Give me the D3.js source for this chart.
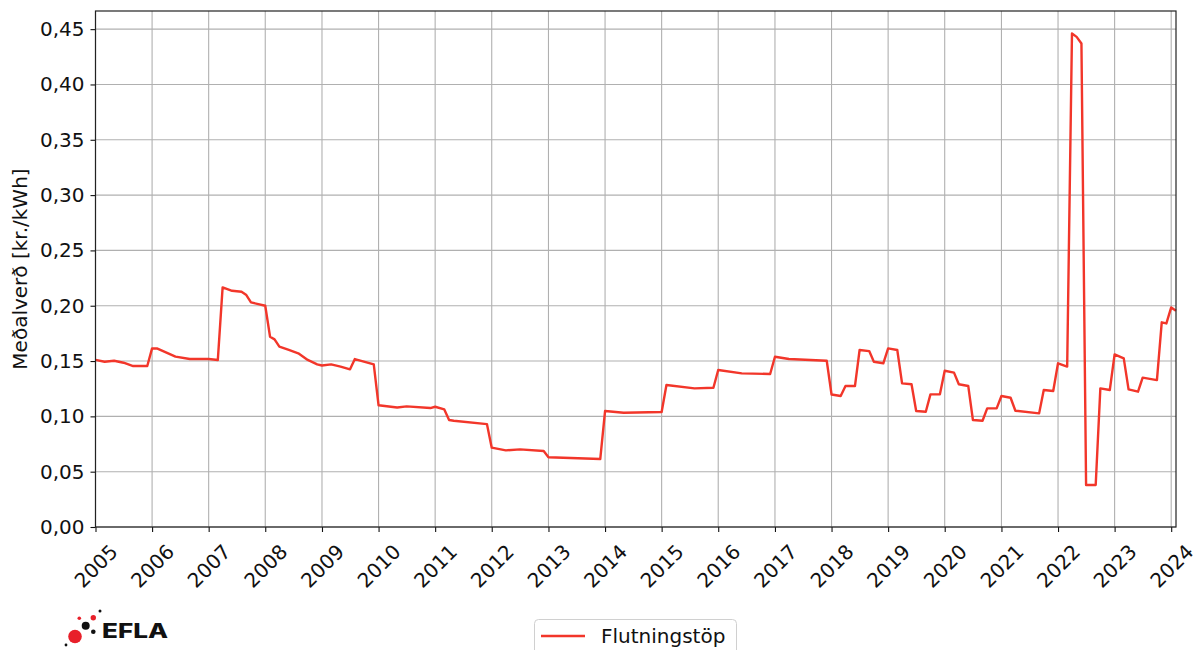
<!DOCTYPE html>
<html>
<head>
<meta charset="utf-8">
<script src="https://cdn.jsdelivr.net/npm/d3@7"></script>
<style>
  body { margin: 0; background: #fff; }
  svg { display: block; font-family: "DejaVu Sans", sans-serif; }
</style>
</head>
<body>
<svg id="chart"></svg>
<script>
// monthly vertices of the series (month, kr./kWh)
const months = [
  "2005-01","2005-03","2005-05","2005-07","2005-09","2005-12",
  "2006-01","2006-02","2006-06","2006-09",
  "2007-01","2007-03","2007-04","2007-06","2007-08","2007-09","2007-10",
  "2008-01","2008-02","2008-03","2008-04","2008-06","2008-08","2008-10","2008-12",
  "2009-01","2009-03","2009-05","2009-07","2009-08","2009-12",
  "2010-01","2010-05","2010-07","2010-12",
  "2011-01","2011-03","2011-04","2011-05","2011-12",
  "2012-01","2012-04","2012-07","2012-12",
  "2013-01","2013-12",
  "2014-01","2014-05",
  "2015-01","2015-02","2015-08","2015-12",
  "2016-01","2016-06","2016-12",
  "2017-01","2017-04","2017-12",
  "2018-01","2018-03","2018-04","2018-06","2018-07","2018-09","2018-10","2018-12",
  "2019-01","2019-03","2019-04","2019-06","2019-07","2019-09","2019-10","2019-12",
  "2020-01","2020-03","2020-04","2020-06","2020-07","2020-09","2020-10","2020-12",
  "2021-01","2021-03","2021-04","2021-09","2021-10","2021-12",
  "2022-01","2022-03","2022-04","2022-05","2022-06","2022-07","2022-09","2022-10","2022-12",
  "2023-01","2023-03","2023-04","2023-06","2023-07","2023-10","2023-11","2023-12",
  "2024-01","2024-02"
];
const values = [
  0.151,0.1494,0.1503,0.1485,0.1455,0.1455,
  0.1614,0.1614,0.154,0.1518,
  0.1518,0.1509,0.2166,0.2135,0.2126,0.2096,0.203,
  0.200,0.172,0.1696,0.163,0.160,0.157,0.151,0.147,
  0.146,0.147,0.145,0.1425,0.1518,0.147,
  0.110,0.108,0.109,0.1075,
  0.1087,0.1063,0.0967,0.096,0.093,
  0.0717,0.0693,0.0702,0.0687,
  0.063,0.0614,
  0.1048,0.1033,
  0.1039,0.1283,0.1253,0.1259,
  0.1419,0.1389,0.1383,
  0.1539,0.1518,0.1503,
  0.1198,0.1184,0.1274,0.1274,0.160,0.159,0.1494,0.148,
  0.1614,0.160,0.1298,0.129,0.1048,0.1042,0.1199,0.1199,
  0.1412,0.1395,0.129,0.1274,0.0967,0.096,0.1072,0.1072,
  0.1184,0.1168,0.1051,0.1027,0.1238,0.1229,
  0.148,0.145,0.446,0.443,0.437,0.038,0.038,0.1253,0.1238,
  0.156,0.1524,0.1244,0.1223,0.135,0.1328,0.185,0.184,
  0.1985,0.1955
];
const yTicks = [0, 0.05, 0.10, 0.15, 0.20, 0.25, 0.30, 0.35, 0.40, 0.45];
const xTickYears = d3.range(2005, 2025);
const seriesName = "Flutningstöp";
const yLabel = "Meðalverð [kr./kWh]";

const width = 1198, height = 650;
const margin = { left: 95.5, right: 22, top: 11, bottom: 123 };
const lineColor = "#f2362a";
const fontSize = 20;

const parse = d3.utcParse("%Y-%m");
const data = months.map((m, i) => ({ date: parse(m), value: values[i] }));

const svg = d3.select("#chart").attr("width", width).attr("height", height);

const x = d3.scaleUtc()
  .domain([parse("2005-01"), parse("2024-02")])
  .range([margin.left, width - margin.right]);

const y = d3.scaleLinear()
  .domain([0, 0.4664])
  .range([height - margin.bottom, margin.top]);

const x0 = margin.left, x1 = width - margin.right;
const y0 = height - margin.bottom, y1 = margin.top;

// grid
const grid = svg.append("g").attr("stroke", "#b0b0b0").attr("stroke-width", 1.1);
grid.selectAll(".vg").data(xTickYears).enter().append("line")
  .attr("x1", d => x(Date.UTC(d, 0, 1))).attr("x2", d => x(Date.UTC(d, 0, 1)))
  .attr("y1", y0).attr("y2", y1);
grid.selectAll(".hg").data(yTicks).enter().append("line")
  .attr("x1", x0).attr("x2", x1)
  .attr("y1", d => y(d)).attr("y2", d => y(d));

// line
const line = d3.line().x(d => x(d.date)).y(d => y(d.value));
svg.append("path")
  .datum(data)
  .attr("fill", "none")
  .attr("stroke", lineColor)
  .attr("stroke-width", 2.4)
  .attr("stroke-linejoin", "round")
  .attr("d", line);

// axes
const fmt = d => d3.format(".2f")(d).replace(".", ",");
const yAxis = svg.append("g")
  .attr("transform", `translate(${x0},0)`)
  .call(d3.axisLeft(y).tickValues(yTicks).tickFormat(fmt).tickSize(5).tickPadding(6));
yAxis.select(".domain").remove();
yAxis.selectAll("text").attr("font-size", fontSize).attr("fill", "#111").attr("font-family", "DejaVu Sans");
yAxis.selectAll("line").attr("stroke", "#111").attr("stroke-width", 1.1);

const xAxis = svg.append("g")
  .attr("transform", `translate(0,${y0})`)
  .call(d3.axisBottom(x).tickValues(xTickYears.map(d => new Date(Date.UTC(d, 0, 1))))
    .tickFormat(d3.utcFormat("%Y")).tickSize(5));
xAxis.select(".domain").remove();
xAxis.selectAll("line").attr("stroke", "#111").attr("stroke-width", 1.1);
xAxis.selectAll("text")
  .attr("font-size", fontSize).attr("fill", "#111").attr("font-family", "DejaVu Sans")
  .attr("text-anchor", "middle")
  .attr("dominant-baseline", "central")
  .attr("y", 39).attr("dy", null)
  .attr("transform", "rotate(-45,0,39)");

// frame
svg.append("rect")
  .attr("x", x0).attr("y", y1)
  .attr("width", x1 - x0).attr("height", y0 - y1)
  .attr("fill", "none").attr("stroke", "#222").attr("stroke-width", 1.2);

// y label
svg.append("text")
  .attr("transform", `translate(27,${(y0 + y1) / 2}) rotate(-90)`)
  .attr("text-anchor", "middle")
  .attr("font-size", fontSize)
  .attr("fill", "#111")
  .text(yLabel);

// legend
const lg = svg.append("g");
lg.append("rect")
  .attr("x", 534.5).attr("y", 619.5).attr("width", 202).attr("height", 40)
  .attr("rx", 4).attr("fill", "#fff").attr("stroke", "#d0d0d0");
lg.append("line")
  .attr("x1", 541).attr("x2", 585).attr("y1", 636).attr("y2", 636)
  .attr("stroke", lineColor).attr("stroke-width", 2.4);
lg.append("text")
  .attr("x", 601).attr("y", 643)
  .attr("font-size", fontSize).attr("fill", "#111")
  .text(seriesName);

// logo
const logo = svg.append("g");
const dots = [
  [75, 636.5, 6.8, "#e8202a"], [85.7, 625.7, 4, "#111"], [79.3, 618.3, 1.8, "#e8202a"],
  [93.3, 617.7, 2.7, "#e8202a"], [100, 611, 1.5, "#111"], [93.3, 631.7, 2.3, "#111"],
  [66, 645, 1.4, "#111"]
];
logo.selectAll("circle").data(dots).enter().append("circle")
  .attr("cx", d => d[0]).attr("cy", d => d[1]).attr("r", d => d[2]).attr("fill", d => d[3]);
logo.append("text")
  .attr("x", 102).attr("y", 637.5)
  .attr("font-family", "Inter, 'DejaVu Sans', sans-serif")
  .attr("font-weight", 800)
  .attr("font-size", 19.5)
  .attr("textLength", 66)
  .attr("lengthAdjust", "spacingAndGlyphs")
  .attr("fill", "#111")
  .text("EFLA");
</script>
</body>
</html>
